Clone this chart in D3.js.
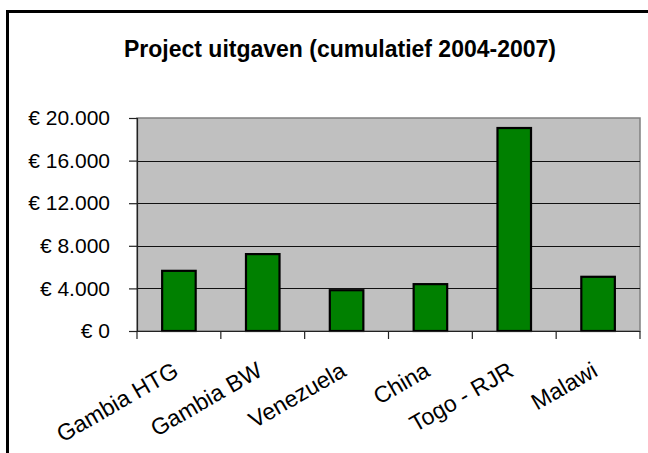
<!DOCTYPE html>
<html>
<head>
<meta charset="utf-8">
<script src="https://cdn.jsdelivr.net/npm/d3@7"></script>
<style>
  body { margin: 0; background: #fff; }
  text { font-family: Arial, "Liberation Sans", sans-serif; }
</style>
</head>
<body>
<svg id="chart" width="648" height="453"></svg>
<script>
// Chart data
const categories = ["Gambia HTG", "Gambia BW", "Venezuela", "China", "Togo - RJR", "Malawi"];
const uitgaven = [5650, 7220, 3830, 4400, 19060, 5090];
const yTicks = [0, 4000, 8000, 12000, 16000, 20000];
const chartTitle = "Project uitgaven (cumulatief 2004-2007)";

const svg = d3.select("#chart");

// Plot area
const plot = { left: 137, right: 640, top: 118, bottom: 331 };

// Outer chart frame (only left and top are visible)
svg.append("rect")
    .attr("x", 7.5)
    .attr("y", 11.5)
    .attr("width", 700)
    .attr("height", 500)
    .attr("fill", "none")
    .attr("stroke", "black")
    .attr("stroke-width", 3);

// Title
svg.append("text")
    .attr("x", 340)
    .attr("y", 57)
    .attr("text-anchor", "middle")
    .style("font-size", "23px")
    .style("font-weight", "bold")
    .text(chartTitle);

// Scales
const x = d3.scaleBand()
    .domain(categories)
    .range([plot.left, plot.right])
    .paddingInner(0.6)
    .paddingOuter(0.3);

const y = d3.scaleLinear()
    .domain([0, 20000])
    .range([plot.bottom, plot.top]);

// Grey plot background
svg.append("rect")
    .attr("x", plot.left)
    .attr("y", plot.top)
    .attr("width", plot.right - plot.left)
    .attr("height", plot.bottom - plot.top)
    .attr("fill", "#c0c0c0")
    .attr("stroke", "#808080")
    .attr("stroke-width", 1.5);

// Horizontal gridlines
svg.selectAll("line.grid")
    .data(yTicks.filter(d => d > 0 && d < 20000))
    .enter()
    .append("line")
    .attr("class", "grid")
    .attr("x1", plot.left)
    .attr("x2", plot.right)
    .attr("y1", d => Math.round(y(d)) + 0.5)
    .attr("y2", d => Math.round(y(d)) + 0.5)
    .attr("stroke", "#111")
    .attr("stroke-width", 1.2);

// Bars
svg.selectAll("rect.bar")
    .data(uitgaven)
    .enter()
    .append("rect")
    .attr("class", "bar")
    .attr("x", (d, i) => x(categories[i]))
    .attr("y", d => y(d))
    .attr("width", x.bandwidth())
    .attr("height", d => y(0) - y(d))
    .attr("fill", "#008000")
    .attr("stroke", "black")
    .attr("stroke-width", 2.2);

// Y axis
const euro = d => "€ " + d3.format(",")(d).replace(/,/g, ".");
const yAxis = svg.append("g")
    .attr("transform", `translate(${plot.left},0)`)
    .call(d3.axisLeft(y).tickValues(yTicks).tickFormat(euro).tickSize(8).tickPadding(19));
yAxis.select(".domain").attr("stroke", "#222").attr("stroke-width", 1.2);
yAxis.selectAll(".tick line").attr("stroke", "#222").attr("stroke-width", 1.2);
yAxis.selectAll(".tick text")
    .style("font-size", "21px")
    .style("font-family", "Arial, 'Liberation Sans', sans-serif")
    .attr("fill", "black");

// X axis line and ticks at category boundaries
const boundaries = [0].concat(categories.map((c, i) => i + 1));
const bx = i => plot.left + i * x.step();
svg.append("line")
    .attr("x1", plot.left)
    .attr("x2", plot.right)
    .attr("y1", plot.bottom + 0.5)
    .attr("y2", plot.bottom + 0.5)
    .attr("stroke", "#222")
    .attr("stroke-width", 1.2);
svg.selectAll("line.xtick")
    .data(boundaries)
    .enter()
    .append("line")
    .attr("class", "xtick")
    .attr("x1", d => bx(d))
    .attr("x2", d => bx(d))
    .attr("y1", plot.bottom)
    .attr("y2", plot.bottom + 8)
    .attr("stroke", "#222")
    .attr("stroke-width", 1.2);

// Rotated category labels
svg.selectAll("text.xlabel")
    .data(categories)
    .enter()
    .append("text")
    .attr("class", "xlabel")
    .attr("text-anchor", "end")
    .attr("transform", d => `translate(${x(d) + x.bandwidth() / 2 + 1},375) rotate(-30)`)
    .style("font-size", "23px")
    .text(d => d);
</script>
</body>
</html>
